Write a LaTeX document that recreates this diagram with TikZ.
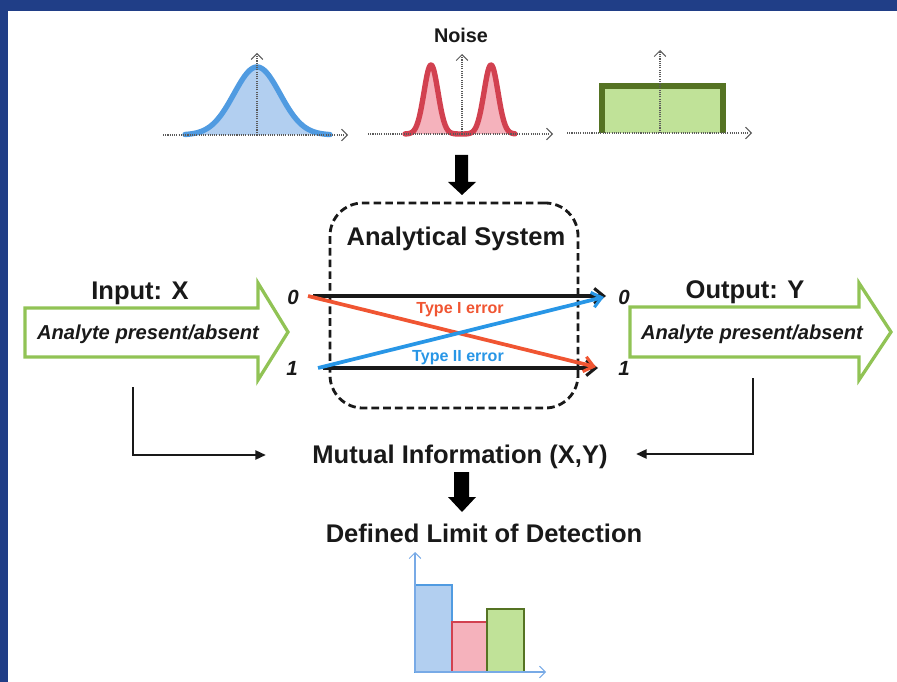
\documentclass[tikz,border=0pt]{standalone}
\usepackage{fontspec}
\setmainfont{Liberation Sans}
\usetikzlibrary{arrows.meta}
\definecolor{frame}{RGB}{32,62,135}
\definecolor{txt}{RGB}{25,25,25}
\definecolor{bcurve}{RGB}{80,155,225}
\definecolor{bfill}{RGB}{178,207,240}
\definecolor{rcurve}{RGB}{210,65,80}
\definecolor{rfill}{RGB}{245,178,188}
\definecolor{gedge}{RGB}{85,115,35}
\definecolor{gfill}{RGB}{192,226,152}
\definecolor{agreen}{RGB}{145,195,85}
\definecolor{typeI}{RGB}{240,85,50}
\definecolor{typeII}{RGB}{40,150,230}
\definecolor{axgray}{RGB}{90,90,90}
\definecolor{axblue}{RGB}{120,170,230}
\tikzset{
  big/.style={font=\fontsize{21.8}{24}\selectfont\bfseries, text=txt, inner sep=0pt, anchor=base},
  analyte/.style={font=\fontsize{17.2}{19}\selectfont\bfseries\itshape, text=txt, inner sep=0pt, anchor=base},
  bit/.style={font=\fontsize{17.5}{19}\selectfont\bfseries\itshape, text=txt, inner sep=0pt, anchor=base},
  errlbl/.style={font=\fontsize{13.7}{15}\selectfont\bfseries, inner sep=0pt, anchor=base},
  plotaxis/.style={axgray, line width=0.9pt, densely dotted, -{Straight Barb[length=5pt,width=10pt,line width=0.9pt]}},
  bigarrow/.style={agreen, line width=2.8pt, line join=miter},
  chan/.style={line width=3.2pt, -{Straight Barb[length=8pt,width=13pt,line width=2.6pt]}},
  conn/.style={draw=txt, line width=2.4pt, -{Triangle[length=9pt,width=7.5pt]}},
  thickdown/.style={fill=black},
  bar/.style={line width=2.4pt}
}
\begin{document}
\begin{tikzpicture}[x=0.03cm,y=-0.03cm]
\useasboundingbox (0,0) rectangle (897,682);
% frame
\fill[frame] (0,0) rectangle (897,11);
\fill[frame] (0,0) rectangle (8,682);

% --- Gaussian plot
\fill[bfill] (185,135) -- plot[domain=185:330,samples=120] (\x,{135-68*exp(-((\x-257)/23)*((\x-257)/23)/2)}) -- cycle;
\draw[bcurve, line width=4.6pt, line cap=round, line join=round] plot[domain=185:330,samples=120] (\x,{135-68*exp(-((\x-257)/23)*((\x-257)/23)/2)});
\draw[plotaxis] (163,135) -- (348,135);
\draw[plotaxis] (257,135) -- (257,53);

% --- Noise bimodal plot
\fill[rfill] (405,134) -- plot[domain=405:515,samples=160] (\x,{134-69*(exp(-((\x-431)/7)*((\x-431)/7)/2)+exp(-((\x-491)/7)*((\x-491)/7)/2))}) -- cycle;
\draw[rcurve, line width=4.6pt, line cap=round, line join=round] plot[domain=405:515,samples=160] (\x,{134-69*(exp(-((\x-431)/7)*((\x-431)/7)/2)+exp(-((\x-491)/7)*((\x-491)/7)/2))});
\draw[plotaxis] (368,134) -- (553,134);
\draw[plotaxis] (462,134) -- (462,54);
\node[font=\fontsize{16.9}{18}\selectfont\bfseries, text=txt, inner sep=0pt, anchor=base] (noise) at (461,43) {Noise};

% --- Uniform plot
\fill[gfill] (602,133) rectangle (723,86);
\draw[gedge, line width=4.6pt, line join=miter] (602,133) -- (602,86) -- (723,86) -- (723,133);
\draw[plotaxis] (567,133) -- (752,133);
\draw[plotaxis] (660,133) -- (660,50);

% --- thick arrow into system
\fill[thickdown] (455,155) -- (468,155) -- (468,182) -- (476,182) -- (462,195) -- (448,182) -- (455,182) -- cycle;

% --- analytical system box
\node[draw=txt, dashed, dash pattern=on 6.5pt off 3.5pt, line width=2.4pt, rounded corners=28, minimum width=7.44cm, minimum height=6.15cm, inner sep=0pt] (sys) at (454,305.5) {};
\node[big] (systitle) at (456,246) {Analytical System};

% --- channel
\coordinate (a0) at (313,296);
\coordinate (b0) at (606,296);
\coordinate (a1) at (323,368);
\coordinate (b1) at (598,368);
\coordinate (r0) at (308,296);
\coordinate (r1) at (596,367);
\coordinate (u1) at (318,368);
\coordinate (u0) at (604,297);
\draw[chan, txt] (a0) -- (b0);
\draw[chan, txt] (a1) -- (b1);
\draw[chan, typeI] (r0) -- (r1);
\draw[chan, typeII] (u1) -- (u0);
\node[errlbl, text=typeI] (t1) at (460,314) {Type I error};
\node[errlbl, text=typeII] (t2) at (458,361) {Type II error};
\node[bit] (x0) at (293,305) {0};
\node[bit] (x1) at (292,375) {1};
\node[bit] (y0) at (624,305) {0};
\node[bit] (y1) at (624,375) {1};

% --- input arrow
\draw[bigarrow] (25,308) -- (258,308) -- (258,283) -- (288,332) -- (258,380) -- (258,357) -- (25,357) -- cycle;
\node[big] (inlbl) at (140,300) {Input: X};
\node[analyte] (intext) at (148,340) {Analyte present/absent};

% --- output arrow
\draw[bigarrow] (630,307) -- (859,307) -- (859,283) -- (891,332) -- (859,380) -- (859,357) -- (630,357) -- cycle;
\node[big] (outlbl) at (745,299) {Output: Y};
\node[analyte] (outtext) at (752,339) {Analyte present/absent};

% --- mutual information
\node[big] (mi) at (460,463) {Mutual Information (X,Y)};
\coordinate (lstart) at (133,387);
\coordinate (lend) at (266,455);
\coordinate (rstart) at (753,378);
\coordinate (rend) at (636,454);
\draw[conn] (lstart) |- (lend);
\draw[conn] (rstart) |- (rend);

\fill[thickdown] (454,472) -- (469,472) -- (469,497) -- (476,497) -- (462,512) -- (448,497) -- (454,497) -- cycle;
\node[big] (lod) at (484,542) {Defined Limit of Detection};

% --- bar chart
\fill[bfill] (415,672) rectangle (452,585);
\fill[rfill] (452,672) rectangle (487,622);
\fill[gfill] (487,672) rectangle (524,609);
\draw[bar, bcurve] (415,672) rectangle (452,585);
\draw[bar, rcurve] (452,672) rectangle (487,622);
\draw[bar, gedge] (487,672) rectangle (524,609);
\draw[axblue, line width=0.9pt, -{Straight Barb[length=5pt,width=10pt,line width=0.9pt]}] (415,672) -- (415,552);
\draw[axblue, line width=0.9pt, -{Straight Barb[length=5pt,width=10pt,line width=0.9pt]}] (415,672) -- (546,672);
\end{tikzpicture}
\end{document}
